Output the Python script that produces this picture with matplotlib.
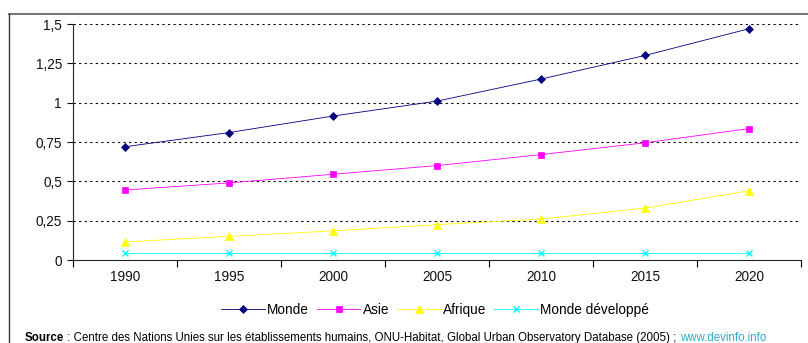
import matplotlib
matplotlib.use("Agg")
import matplotlib.pyplot as plt
from matplotlib.lines import Line2D

years = ["1990", "1995", "2000", "2005", "2010", "2015", "2020"]
monde = [0.72, 0.81, 0.915, 1.01, 1.15, 1.30, 1.47]
asie = [0.445, 0.49, 0.545, 0.60, 0.67, 0.745, 0.835]
afrique = [0.115, 0.15, 0.185, 0.225, 0.26, 0.33, 0.44]
monde_dev = [0.045, 0.045, 0.045, 0.045, 0.045, 0.045, 0.045]
yticks = [0, 0.25, 0.5, 0.75, 1, 1.25, 1.5]
ytick_labels = ["0", "0,25", "0,5", "0,75", "1", "1,25", "1,5"]

plt.rcParams["font.family"] = ["Liberation Sans", "DejaVu Sans"]

W, H = 808, 343
fig = plt.figure(figsize=(W / 100, H / 100), dpi=100)
ax = fig.add_axes([73 / W, 1 - 260 / H, (801 - 73) / W, (260 - 24) / H])

x = list(range(len(years)))
series = [
    ("Monde", monde, "#000080", "D", 4.5),
    ("Asie", asie, "#FF00FF", "s", 5),
    ("Afrique", afrique, "#FFFF00", "^", 6),
    ("Monde développé", monde_dev, "#00FFFF", "x", 5),
]
for name, vals, col, mk, ms in series:
    ax.plot(x, vals, color=col, lw=0.6, marker=mk, ms=ms, mfc=col, mec=col,
            mew=1.0 if mk == "x" else 0.5, label=name, zorder=3)

ax.set_xlim(-0.5, len(years) - 0.5)
ax.set_ylim(0, 1.5)
ax.set_yticks(yticks)
ax.set_yticklabels(ytick_labels)
ax.set_xticks(x)
ax.set_xticklabels(years)
ax.set_xticks([i - 0.5 for i in range(len(years) + 1)], minor=True)
ax.tick_params(axis="x", which="major", length=0, pad=7, labelsize=9.8, colors="#111111")
ax.tick_params(axis="x", which="minor", length=5, width=0.8, direction="out")
ax.tick_params(axis="y", length=4, width=0.8, labelsize=9.8, pad=4, colors="#111111")

for y in yticks[1:]:
    ax.axhline(y, color="black", lw=0.8, ls=(0, (2, 3)), zorder=1)

for s in ["top", "right"]:
    ax.spines[s].set_visible(False)
for s in ["left", "bottom"]:
    ax.spines[s].set_linewidth(0.8)
    ax.spines[s].set_color("#222222")

leg = fig.legend(loc="center", bbox_to_anchor=(435 / W, 1 - 310 / H), ncol=4,
                 frameon=False, fontsize=9.8, handlelength=3.2, handletextpad=0.15,
                 columnspacing=0.6)

# outer chart frame
fig.add_artist(Line2D([9 / W, 1], [1 - 14 / H, 1 - 14 / H], transform=fig.transFigure,
                      color="#777777", lw=1.5))
fig.add_artist(Line2D([9 / W, 9 / W], [1 - 14 / H, 0], transform=fig.transFigure,
                      color="#333333", lw=1.0))

ys = 1 - 338 / H
t1 = fig.text(25 / W, ys, "Source", fontsize=8.3, fontweight="bold", va="center")
t2 = fig.text(0, ys, " : Centre des Nations Unies sur les établissements humains, ONU-Habitat, "
              "Global Urban Observatory Database (2005) ; ", fontsize=8.3, va="center")
fig.canvas.draw()
r = fig.canvas.get_renderer()
bb = t1.get_window_extent(r)
t2.set_position((bb.x1 / W, ys))
fig.canvas.draw()
bb2 = t2.get_window_extent(r)
fig.text(bb2.x1 / W, ys, "www.devinfo.info", fontsize=8.3, va="center", color="#33AACC")

fig.savefig("out.png", dpi=100)
